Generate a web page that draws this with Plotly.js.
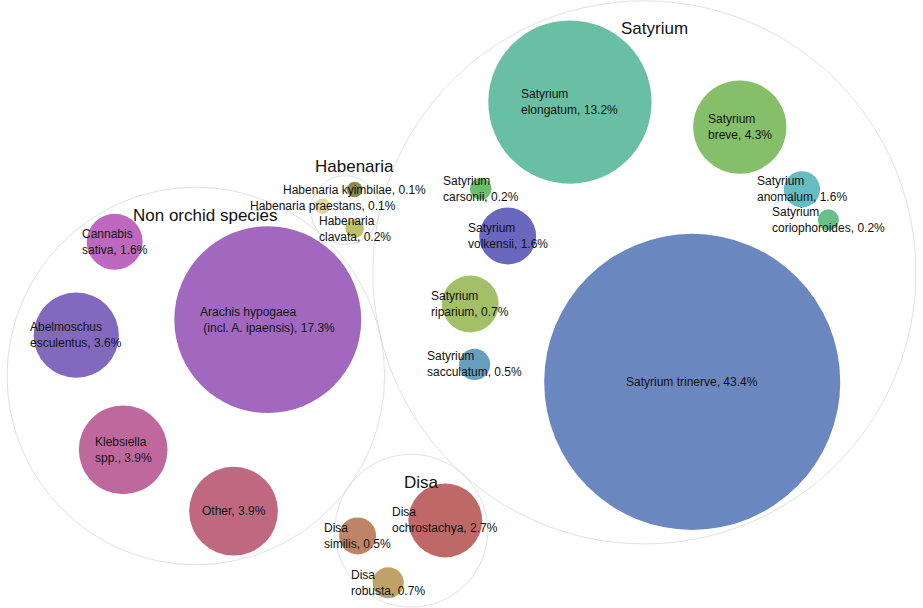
<!DOCTYPE html>
<html><head><meta charset="utf-8">
<script src="https://cdn.plot.ly/plotly-3.0.1.min.js"></script>
<style>html,body{margin:0;padding:0;background:#fff}#chart{width:923px;height:608px}</style>
</head><body><div id="chart"></div>
<script>
// ---------------- data ----------------
const groupNames = ['Satyrium', 'Non orchid species', 'Disa', 'Habenaria'];
const speciesNames = [
  'Satyrium trinerve', 'Satyrium\nelongatum', 'Satyrium\nbreve', 'Satyrium\nvolkensii', 'Satyrium\nriparium',
  'Satyrium\nanomalum', 'Satyrium\nsacculatum', 'Satyrium\ncarsonii', 'Satyrium\ncoriophoroides',
  'Arachis hypogaea\n (incl. A. ipaensis)', 'Klebsiella\nspp.', 'Other', 'Abelmoschus\nesculentus', 'Cannabis\nsativa',
  'Disa\nochrostachya', 'Disa\nsimilis', 'Disa\nrobusta',
  'Habenaria\nclavata', 'Habenaria kyimbilae', 'Habenaria praestans'
];
const speciesGroup = [0,0,0,0,0,0,0,0,0, 1,1,1,1,1, 2,2,2, 3,3,3];
// share shown in the labels (%)
const sharePct   = [43.4,13.2,4.3,1.6,0.7,1.6,0.5,0.2,0.2, 17.3,3.9,3.9,3.6,1.6, 2.7,0.5,0.7, 0.2,0.1,0.1];
// bubble size (area) as read from the drawn bubbles
const bubbleSize = [43.4,13.2,4.3,1.6,1.6,0.65,0.48,0.23,0.22, 17.3,3.9,3.9,3.6,1.55, 2.7,0.68,0.48, 0.17,0.12,0.12];

// ---------------- style / layout settings ----------------
const speciesColors = [
  '#6a87bf', '#68bfa3', '#86bf6a', '#6a67bf', '#a3bf67', '#67bcc2', '#67a0bf', '#6abf6c', '#68bf8a',
  '#a268bf', '#bf689e', '#bf6880', '#8368bf', '#bf68bf',
  '#bf6868', '#bf8468', '#bfa268',
  '#bfbf68', '#8a8a50', '#dadaa6'
];
const W = 923, H = 608;
const SCALE = 22.47;        // px radius per sqrt(size unit)
const CHILD_PAD = 1;        // half gap between bubbles while packing
const PARENT_PADDING = 14;  // parent radius = sqrt(2 * sum r^2) + padding
const GROUP_PAD = 3;        // gap between bubbles and group outline
const groupOrient = [
  {flip: false, rotate: -113.6},
  {flip: true,  rotate: -42},
  {flip: true,  rotate: -10},
  {flip: true,  rotate: 90}
];
const GROUP_FLIP = true, GROUP_ROTATE = -13;

// ---------------- circle packing (front-chain, as in d3.packSiblings) ----------------
function place(b, a, c) {
  let dx = b.x - a.x, x, a2, dy = b.y - a.y, y, b2, d2 = dx * dx + dy * dy;
  if (d2) {
    a2 = a.r + c.r; a2 *= a2;
    b2 = b.r + c.r; b2 *= b2;
    if (a2 > b2) {
      x = (d2 + b2 - a2) / (2 * d2);
      y = Math.sqrt(Math.max(0, b2 / d2 - x * x));
      c.x = b.x - x * dx - y * dy;
      c.y = b.y - x * dy + y * dx;
    } else {
      x = (d2 + a2 - b2) / (2 * d2);
      y = Math.sqrt(Math.max(0, a2 / d2 - x * x));
      c.x = a.x + x * dx - y * dy;
      c.y = a.y + x * dy + y * dx;
    }
  } else { c.x = a.x + c.r; c.y = a.y; }
}
function intersects(a, b) {
  const dr = a.r + b.r - 1e-6, dx = b.x - a.x, dy = b.y - a.y;
  return dr > 0 && dr * dr > dx * dx + dy * dy;
}
function score(node) {
  const a = node._, b = node.next._, ab = a.r + b.r;
  const dx = (a.x * b.r + b.x * a.r) / ab, dy = (a.y * b.r + b.y * a.r) / ab;
  return dx * dx + dy * dy;
}
function Node(c) { this._ = c; this.next = null; this.previous = null; }
function packSiblings(circles) {
  const n = circles.length;
  let a, b, c, aa, ca, i, j, k, sj, sk;
  a = circles[0]; a.x = 0; a.y = 0;
  if (n === 1) return a.r;
  b = circles[1]; a.x = -b.r; b.x = a.r; b.y = 0;
  if (n > 2) {
    place(b, a, c = circles[2]);
    a = new Node(a); b = new Node(b); c = new Node(c);
    a.next = c.previous = b; b.next = a.previous = c; c.next = b.previous = a;
    pack: for (i = 3; i < n; ++i) {
      place(a._, b._, c = circles[i]); c = new Node(c);
      j = b.next; k = a.previous; sj = b._.r; sk = a._.r;
      do {
        if (sj <= sk) {
          if (intersects(j._, c._)) { b = j; a.next = b; b.previous = a; --i; continue pack; }
          sj += j._.r; j = j.next;
        } else {
          if (intersects(k._, c._)) { a = k; a.next = b; b.previous = a; --i; continue pack; }
          sk += k._.r; k = k.previous;
        }
      } while (j !== k.next);
      c.previous = a; c.next = b; a.next = b.previous = b = c;
      aa = score(a);
      while ((c = c.next) !== b) { if ((ca = score(c)) < aa) { a = c; aa = ca; } }
      b = a.next;
    }
  }
  centerOnEnclosure(circles);
  return enclose(circles).r;
}
function centerOnEnclosure(circles) {
  const e = enclose(circles);
  circles.forEach(p => { p.x -= e.x; p.y -= e.y; });
}
// smallest enclosing circle of circles (Welzl style)
function enclose(circles) {
  let i = 0, n = circles.length, B = [], p, e;
  while (i < n) {
    p = circles[i];
    if (e && enclosesWeak(e, p)) ++i;
    else { B = extendBasis(B, p); e = encloseBasis(B); i = 0; }
  }
  return e;
}
function extendBasis(B, p) {
  if (enclosesWeakAll(p, B)) return [p];
  for (let i = 0; i < B.length; ++i)
    if (enclosesNot(p, B[i]) && enclosesWeakAll(encloseBasis2(B[i], p), B)) return [B[i], p];
  for (let i = 0; i < B.length - 1; ++i)
    for (let j = i + 1; j < B.length; ++j)
      if (enclosesNot(encloseBasis2(B[i], B[j]), p) && enclosesNot(encloseBasis2(B[i], p), B[j]) &&
          enclosesNot(encloseBasis2(B[j], p), B[i]) && enclosesWeakAll(encloseBasis3(B[i], B[j], p), B))
        return [B[i], B[j], p];
  return B.concat([p]).slice(-3);
}
function enclosesNot(a, b) { const dr = a.r - b.r, dx = b.x - a.x, dy = b.y - a.y; return dr < 0 || dr * dr < dx * dx + dy * dy; }
function enclosesWeak(a, b) { const dr = a.r - b.r + Math.max(a.r, b.r, 1) * 1e-9, dx = b.x - a.x, dy = b.y - a.y; return dr > 0 && dr * dr > dx * dx + dy * dy; }
function enclosesWeakAll(a, B) { for (let i = 0; i < B.length; ++i) if (!enclosesWeak(a, B[i])) return false; return true; }
function encloseBasis(B) { return B.length === 1 ? {x: B[0].x, y: B[0].y, r: B[0].r} : B.length === 2 ? encloseBasis2(B[0], B[1]) : encloseBasis3(B[0], B[1], B[2]); }
function encloseBasis2(a, b) {
  const x1 = a.x, y1 = a.y, r1 = a.r, x2 = b.x, y2 = b.y, r2 = b.r, x21 = x2 - x1, y21 = y2 - y1, r21 = r2 - r1, l = Math.sqrt(x21 * x21 + y21 * y21);
  return {x: (x1 + x2 + x21 / l * r21) / 2, y: (y1 + y2 + y21 / l * r21) / 2, r: (l + r1 + r2) / 2};
}
function encloseBasis3(a, b, c) {
  const x1 = a.x, y1 = a.y, r1 = a.r, x2 = b.x, y2 = b.y, r2 = b.r, x3 = c.x, y3 = c.y, r3 = c.r,
    a2 = x1 - x2, a3 = x1 - x3, b2 = y1 - y2, b3 = y1 - y3, c2 = r2 - r1, c3 = r3 - r1,
    d1 = x1 * x1 + y1 * y1 - r1 * r1, d2 = d1 - x2 * x2 - y2 * y2 + r2 * r2, d3 = d1 - x3 * x3 - y3 * y3 + r3 * r3,
    ab = a3 * b2 - a2 * b3, xa = (b2 * d3 - b3 * d2) / (ab * 2) - x1, xb = (b3 * c2 - b2 * c3) / ab,
    ya = (a3 * d2 - a2 * d3) / (ab * 2) - y1, yb = (a2 * c3 - a3 * c2) / ab,
    A = xb * xb + yb * yb - 1, Bq = 2 * (r1 + xa * xb + ya * yb), C = xa * xa + ya * ya - r1 * r1,
    r = -(Math.abs(A) > 1e-6 ? (Bq + Math.sqrt(Bq * Bq - 4 * A * C)) / (2 * A) : C / Bq);
  return {x: x1 + xa + xb * r, y: y1 + ya + yb * r, r: r};
}
function orient(list, flip, deg) {
  const t = deg * Math.PI / 180, cs = Math.cos(t), sn = Math.sin(t);
  list.forEach(p => {
    const x = flip ? -p.x : p.x, y = p.y;
    p.x = x * cs - y * sn; p.y = x * sn + y * cs;
  });
}
// loosen a packed group until its enclosure reaches the parent radius
function spreadTo(circ, targetR) {
  const base = circ.map(c => ({x: c.x, y: c.y}));
  const apply = s => { circ.forEach((c, i) => { c.x = base[i].x * s; c.y = base[i].y * s; }); return enclose(circ).r; };
  if (apply(1) >= targetR) return;
  let lo = 1, hi = 6;
  for (let it = 0; it < 60; it++) { const m = (lo + hi) / 2; if (apply(m) < targetR) lo = m; else hi = m; }
  apply(lo);
  centerOnEnclosure(circ);
}

// ---------------- compute layout ----------------
const bubbles = speciesNames.map((name, i) => ({i, g: speciesGroup[i], r0: SCALE * Math.sqrt(bubbleSize[i]), x: 0, y: 0}));
const groups = groupNames.map((name, g) => {
  const kids = bubbles.filter(b => b.g === g).sort((a, b) => b.r0 - a.r0);
  const circ = kids.map(b => ({b, r: b.r0 + CHILD_PAD, x: 0, y: 0}));
  packSiblings(circ);
  const R = Math.sqrt(2 * kids.reduce((s, b) => s + b.r0 * b.r0, 0)) + PARENT_PADDING;
  spreadTo(circ, R - GROUP_PAD);
  orient(circ, groupOrient[g].flip, groupOrient[g].rotate);
  circ.forEach(c => { c.b.x = c.x; c.b.y = c.y; });
  return {g, r: Math.max(R, enclose(circ).r + GROUP_PAD), x: 0, y: 0};
});
const gcirc = groups.slice().sort((a, b) => b.r - a.r);
packSiblings(gcirc);
orient(gcirc, GROUP_FLIP, GROUP_ROTATE);
let x0 = Infinity, x1 = -Infinity, y0 = Infinity, y1 = -Infinity;
groups.forEach(G => { x0 = Math.min(x0, G.x - G.r); x1 = Math.max(x1, G.x + G.r); y0 = Math.min(y0, G.y - G.r); y1 = Math.max(y1, G.y + G.r); });
const ox = W / 2 - (x0 + x1) / 2, oy = H / 2 - (y0 + y1) / 2;
groups.forEach(G => { G.x += ox; G.y += oy; });
bubbles.forEach(b => { b.x += groups[b.g].x; b.y += groups[b.g].y; });

// ---------------- traces ----------------
const outlineTrace = {
  type: 'scatter', mode: 'markers', hoverinfo: 'skip',
  x: groups.map(G => G.x), y: groups.map(G => G.y),
  marker: {size: groups.map(G => 2 * G.r), sizemode: 'diameter', color: 'rgba(255,255,255,0)', line: {color: '#d6d6d6', width: 1}}
};
const bubbleTrace = {
  type: 'scatter', mode: 'markers', hoverinfo: 'skip',
  x: bubbles.map(b => b.x), y: bubbles.map(b => b.y),
  marker: {size: bubbles.map(b => 2 * b.r0), sizemode: 'diameter', color: speciesColors, line: {width: 0}, opacity: 1}
};
const labelAnn = bubbles.map(b => ({
  x: b.x, y: b.y, xref: 'x', yref: 'y', showarrow: false, xanchor: 'center', yanchor: 'middle', align: 'left',
  text: speciesNames[b.i].replace('\n', '<br>') + ', ' + sharePct[b.i].toFixed(1) + '%',
  font: {family: 'Liberation Sans, Arial, sans-serif', size: 12, color: '#111'}
}));
const titleAnn = groups.map(G => ({
  x: G.x + 10, y: G.r > 60 ? G.y - G.r + 28 : G.y - G.r - 9, xref: 'x', yref: 'y', showarrow: false,
  xanchor: 'center', yanchor: 'middle', text: groupNames[G.g],
  font: {family: 'Liberation Sans, Arial, sans-serif', size: 17, color: '#111'}
}));

Plotly.newPlot('chart', [outlineTrace, bubbleTrace], {
  width: W, height: H, margin: {l: 0, r: 0, t: 0, b: 0, pad: 0},
  paper_bgcolor: '#fff', plot_bgcolor: '#fff', showlegend: false,
  xaxis: {range: [0, W], visible: false, fixedrange: true},
  yaxis: {range: [H, 0], visible: false, fixedrange: true},
  annotations: labelAnn.concat(titleAnn)
}, {staticPlot: true, displayModeBar: false});
</script></body></html>
